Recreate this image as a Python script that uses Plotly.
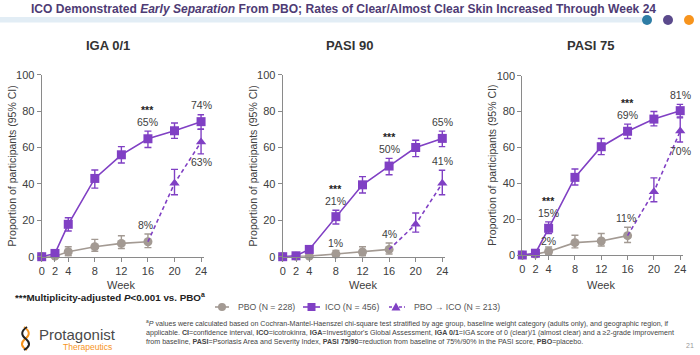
import plotly.graph_objects as go

W, H = 700, 355
FONT = "Liberation Sans, Arial, sans-serif"

# ---------------- data ----------------
weeks = [0, 2, 4, 8, 12, 16, 20, 24]
pbo_weeks = [0, 2, 4, 8, 12, 16]
switch_weeks = [20, 24]
tick_weeks = [0, 2, 4, 8, 12, 16, 20, 24]
y_ticks = [0, 20, 40, 60, 80, 100]
panel_titles = ["IGA 0/1", "PASI 90", "PASI 75"]

# IGA 0/1
iga_ico = [0, 1.8, 17.8, 43, 56, 64.8, 69.2, 74.2]
iga_ico_lo = [0, 0.8, 14.1, 37.7, 51.5, 60, 65, 70]
iga_ico_hi = [0, 2.8, 21.4, 47.6, 60.5, 69, 73.5, 78]
iga_pbo = [0, 0.3, 2.7, 5.5, 7.3, 8.2]
iga_pbo_lo = [0, 0, 0.5, 3, 4.5, 5]
iga_pbo_hi = [0, 1, 5.5, 9.5, 11.5, 12.5]
iga_sw = [40.3, 63]
iga_sw_lo = [34, 56.5]
iga_sw_hi = [48, 70]

# PASI 90
p90_ico = [0, 0.5, 4, 22, 39.5, 49.8, 60, 65]
p90_ico_lo = [0, 0, 2.5, 18, 35, 45, 55, 60.5]
p90_ico_hi = [0, 1.5, 5.5, 25.5, 44, 54, 64, 69]
p90_pbo = [0, 0.3, 0.3, 1.5, 2.6, 4]
p90_pbo_lo = [0, 0, 0, 0, 0.5, 1.5]
p90_pbo_hi = [0, 1, 1, 3.5, 5.5, 7.5]
p90_sw = [17.8, 40.3]
p90_sw_lo = [13.5, 34]
p90_sw_hi = [24, 47.5]

# PASI 75
p75_ico = [0, 1, 14.9, 43.3, 60.4, 69, 75.8, 80.5]
p75_ico_lo = [0, 0, 12, 39, 56, 65, 72, 77]
p75_ico_hi = [0, 2, 18.5, 48, 65, 73, 80, 84]
p75_pbo = [0, 0.5, 2, 6.9, 7.8, 10.8]
p75_pbo_lo = [0, 0, 0.3, 4, 5, 7]
p75_pbo_hi = [0, 1.5, 4.5, 11, 12, 15.5]
p75_sw = [35.3, 69.1]
p75_sw_lo = [29.7, 63]
p75_sw_hi = [43, 76.5]

# value labels: (week, y, text, bold)
iga_labels = [(16, 80.5, "***", True), (16, 74, "65%", False), (24, 83.3, "74%", False),
              (24, 51.8, "63%", False), (15.6, 17.5, "8%", False)]
p90_labels = [(8, 37, "***", True), (8, 30.8, "21%", False), (16, 65.6, "***", True),
              (16, 59, "50%", False), (24, 74, "65%", False), (24, 52.7, "41%", False),
              (8, 7.7, "1%", False), (16, 12.3, "4%", False)]
p75_labels = [(4, 30, "***", True), (4, 23.2, "15%", False), (4, 7.6, "2%", False),
              (16, 84.6, "***", True), (16, 78, "69%", False), (24, 89, "81%", False),
              (24, 58.2, "70%", False), (15.8, 20.5, "11%", False)]

legend_names = ["PBO (N = 228)", "ICO (N = 456)", "PBO \u2192 ICO (N = 213)"]

# ---------------- styles ----------------
C_ICO = "#8040C4"
C_PBO = "#A39A93"
C_AX = "#8A8A8A"
C_TXT = "#404040"

def px(x):
    return x / W

def py(y):
    return 1 - y / H

# panel geometry in pixels: (x at week 0, px per week, y of 0, y of 100)
panels = [
    (41.7, 6.64, 256.7, 74.7),
    (282.7, 6.65, 256.7, 74.7),
    (522.3, 6.58, 255.0, 75.7),
]
XMAX = 24.45

datasets = [
    (iga_ico, iga_ico_lo, iga_ico_hi, iga_pbo, iga_pbo_lo, iga_pbo_hi, iga_sw, iga_sw_lo, iga_sw_hi, iga_labels),
    (p90_ico, p90_ico_lo, p90_ico_hi, p90_pbo, p90_pbo_lo, p90_pbo_hi, p90_sw, p90_sw_lo, p90_sw_hi, p90_labels),
    (p75_ico, p75_ico_lo, p75_ico_hi, p75_pbo, p75_pbo_lo, p75_pbo_hi, p75_sw, p75_sw_lo, p75_sw_hi, p75_labels),
]

fig = go.Figure()
annotations = []
shapes = []
layout_axes = {}

def note(x, y, text, size, color, xanchor="center", yanchor="middle", **kw):
    d = dict(x=px(x), y=py(y), xref="paper", yref="paper", text=text, showarrow=False,
             xanchor=xanchor, yanchor=yanchor, font=dict(family=FONT, size=size, color=color))
    d.update(kw)
    annotations.append(d)

def err(v, lo, hi, color):
    return dict(type="data", symmetric=False,
                array=[h - a for a, h in zip(v, hi)],
                arrayminus=[a - l for a, l in zip(v, lo)],
                color=color, thickness=1.4, width=3.5)

for i, (ico, ico_lo, ico_hi, pbo, pbo_lo, pbo_hi, sw, sw_lo, sw_hi, labels) in enumerate(datasets):
    n = "" if i == 0 else str(i + 1)
    xa, ya = "x" + n, "y" + n
    x0, ppw, y0p, y100p = panels[i]
    x_end = x0 + ppw * XMAX
    layout_axes["xaxis" + n] = dict(
        domain=[px(x0), px(x_end)], range=[0, XMAX], anchor=ya,
        tickvals=tick_weeks, ticks="outside", ticklen=4, tickcolor=C_AX,
        showline=True, linecolor=C_AX, linewidth=1.2, showgrid=False, zeroline=False,
        automargin=False, tickfont=dict(family=FONT, size=11, color=C_TXT),
    )
    layout_axes["yaxis" + n] = dict(
        domain=[py(y0p), py(y100p)], range=[0, 100], anchor=xa,
        tickvals=y_ticks, ticks="outside", ticklen=4, tickcolor=C_AX,
        showline=True, linecolor=C_AX, linewidth=1.2, showgrid=False, zeroline=False,
        automargin=False, tickfont=dict(family=FONT, size=11, color=C_TXT),
    )
    fig.add_trace(go.Scatter(
        x=pbo_weeks, y=pbo, xaxis=xa, yaxis=ya, mode="lines+markers", name=legend_names[0],
        line=dict(color=C_PBO, width=1.6),
        marker=dict(symbol="circle", size=9, color=C_PBO),
        error_y=err(pbo, pbo_lo, pbo_hi, C_PBO), cliponaxis=False, showlegend=False))
    fig.add_trace(go.Scatter(
        x=[pbo_weeks[-1]] + switch_weeks, y=[pbo[-1]] + sw, xaxis=xa, yaxis=ya, mode="lines",
        name=legend_names[2],
        line=dict(color=C_ICO, width=1.6, dash="4px,3px"), cliponaxis=False, showlegend=False))
    fig.add_trace(go.Scatter(
        x=weeks, y=ico, xaxis=xa, yaxis=ya, mode="lines+markers", name=legend_names[1],
        line=dict(color=C_ICO, width=1.6),
        marker=dict(symbol="square", size=9, color=C_ICO),
        error_y=err(ico, ico_lo, ico_hi, C_ICO), cliponaxis=False, showlegend=False))
    fig.add_trace(go.Scatter(
        x=switch_weeks, y=sw, xaxis=xa, yaxis=ya, mode="markers", name=legend_names[2],
        marker=dict(symbol="triangle-up", size=9, color=C_ICO),
        error_y=err(sw, sw_lo, sw_hi, C_ICO), cliponaxis=False, showlegend=False))
    for (wk, yy, txt, bold) in labels:
        annotations.append(dict(
            x=wk, y=yy, xref=xa, yref=ya, showarrow=False, xanchor="center", yanchor="middle",
            text=("<b>%s</b>" % txt) if bold else txt,
            font=dict(family=FONT, size=10.5, color="#222" if bold else C_TXT)))
    note(x0 - 30, (y0p + y100p) / 2, "Proportion of participants (95% CI)", 10.5, C_TXT, textangle=-90)
    note(x0 + ppw * 12, 285, "Week", 11, C_TXT)

# panel titles
for cx, t in zip([108, 349, 590], panel_titles):
    note(cx, 45, "<b>%s</b>" % t, 13, "#333333")

# ---- legend (key glyphs + labels) ----
LY = 307
shapes.append(dict(type="line", xref="paper", yref="paper", x0=px(215), x1=px(229), y0=py(LY), y1=py(LY),
                   line=dict(color=C_PBO, width=1.6)))
shapes.append(dict(type="circle", xref="paper", yref="paper", x0=px(218), x1=px(226), y0=py(LY + 4), y1=py(LY - 4),
                   fillcolor=C_PBO, line=dict(width=0)))
note(235.5, LY, legend_names[0], 8.7, "#555", xanchor="left")
shapes.append(dict(type="line", xref="paper", yref="paper", x0=px(303), x1=px(320), y0=py(LY), y1=py(LY),
                   line=dict(color=C_ICO, width=1.6)))
shapes.append(dict(type="rect", xref="paper", yref="paper", x0=px(307.5), x1=px(315.5), y0=py(LY + 4), y1=py(LY - 4),
                   fillcolor=C_ICO, line=dict(width=0)))
note(322.5, LY, legend_names[1], 8.7, "#555", xanchor="left")
shapes.append(dict(type="line", xref="paper", yref="paper", x0=px(389), x1=px(405), y0=py(LY), y1=py(LY),
                   line=dict(color=C_ICO, width=1.6, dash="3px,2px")))
shapes.append(dict(type="path", xref="paper", yref="paper",
                   path="M %f %f L %f %f L %f %f Z" % (px(391.5), py(LY + 3.5), px(400.5), py(LY + 3.5), px(396), py(LY - 4.5)),
                   fillcolor=C_ICO, line=dict(width=0)))
note(411.5, LY, legend_names[2], 8.7, "#555", xanchor="left")

# header band, dots and title
shapes.append(dict(type="rect", xref="paper", yref="paper", x0=0, x1=px(642), y0=py(22.5), y1=py(17),
                   fillcolor="#E2EDF5", line=dict(width=0), layer="above"))
for cx, col in zip([647, 668, 689], ["#2E7DA5", "#5B4A8C", "#F7941D"]):
    shapes.append(dict(type="circle", xref="paper", yref="paper",
                       x0=px(cx - 5), x1=px(cx + 5), y0=py(25), y1=py(15),
                       fillcolor=col, line=dict(width=0)))
note(29, 9, "<b>ICO Demonstrated <i>Early Separation</i> From PBO; Rates of Clear/Almost Clear Skin Increased Through Week 24</b>",
     12.05, "#4E3B74", xanchor="left")

# multiplicity note
note(13, 297, "<b>***Multiplicity-adjusted <i>P</i>&lt;0.001 vs. PBO<sup>a</sup></b>", 9.8, "#222", xanchor="left")

# footnote
foot = ("<sup>a</sup><i>P</i> values were calculated based on Cochran-Mantel-Haenszel chi-square test stratified by age group, baseline weight category (adults only), and geographic region, if<br>"
        "applicable. <b>CI</b>=confidence interval, <b>ICO</b>=icotrokinra, <b>IGA</b>=Investigator's Global Assessment, <b>IGA 0/1</b>=IGA score of 0 (clear)/1 (almost clear) and a \u22652-grade improvement<br>"
        "from baseline, <b>PASI</b>=Psoriasis Area and Severity Index, <b>PASI 75/90</b>=reduction from baseline of 75%/90% in the PASI score, <b>PBO</b>=placebo.")
note(144, 332, foot, 7.1, "#444", xanchor="left", align="left")
note(690, 345, "21", 7, "#999")

# logo
note(37, 334, "Protagonist", 15, "#4A4A4A", xanchor="left")
note(114, 347, "Therapeutics", 8.5, "#F7941D", xanchor="right")
shapes.append(dict(type="path", xref="paper", yref="paper",
                   path="M %f %f Q %f %f %f %f Q %f %f %f %f" % (
                       px(24), py(327), px(33), py(333), px(25), py(339),
                       px(18), py(345), px(27), py(350)),
                   line=dict(color="#F7941D", width=2)))
shapes.append(dict(type="path", xref="paper", yref="paper",
                   path="M %f %f Q %f %f %f %f Q %f %f %f %f" % (
                       px(27), py(327), px(18), py(333), px(26), py(339),
                       px(33), py(345), px(24), py(350)),
                   line=dict(color="#222222", width=2)))

fig.update_layout(
    width=W, height=H, margin=dict(l=0, r=0, t=0, b=0, pad=0, autoexpand=False),
    paper_bgcolor="white", plot_bgcolor="white",
    annotations=annotations, shapes=shapes,
    showlegend=False,
)
fig.update_layout(**layout_axes)

fig.write_html("out.html", config={"displayModeBar": False},
               post_script="document.body.style.margin='0px';")
